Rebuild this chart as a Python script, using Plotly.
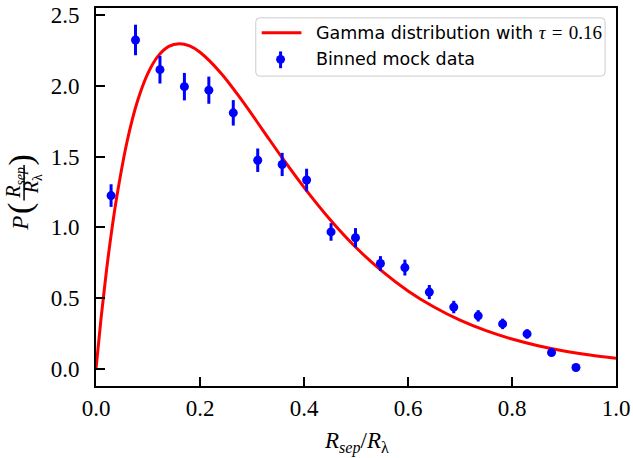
import plotly.graph_objects as go

# ---- data ----
bin_centers = [0.029, 0.076, 0.123, 0.170, 0.217, 0.264, 0.311, 0.358, 0.405, 0.452,
               0.499, 0.547, 0.594, 0.641, 0.688, 0.735, 0.782, 0.829, 0.876, 0.923]
bin_values = [1.225, 2.325, 2.115, 1.995, 1.970, 1.810, 1.475, 1.445, 1.335, 0.968,
              0.927, 0.745, 0.716, 0.543, 0.437, 0.375, 0.318, 0.247, 0.115, 0.010]
bin_errors = [0.080, 0.108, 0.098, 0.097, 0.096, 0.090, 0.083, 0.082, 0.080, 0.062,
              0.068, 0.052, 0.056, 0.050, 0.044, 0.040, 0.037, 0.033, 0.022, 0.007]

# gamma-distribution curve (tau = 0.16)
curve_x = [0.0, 0.01, 0.02, 0.03, 0.04, 0.06, 0.08, 0.10, 0.12, 0.14, 0.16, 0.18, 0.20,
           0.24, 0.28, 0.32, 0.36, 0.40, 0.45, 0.50, 0.55, 0.60, 0.65, 0.70, 0.75,
           0.80, 0.85, 0.90, 0.95, 1.00]
curve_y = [0.0, 0.367, 0.690, 0.972, 1.217, 1.611, 1.895, 2.091, 2.214, 2.280, 2.299,
           2.283, 2.238, 2.092, 1.901, 1.692, 1.482, 1.283, 1.056, 0.858, 0.691, 0.551,
           0.437, 0.344, 0.270, 0.211, 0.164, 0.127, 0.098, 0.075]

x_ticks = [0.0, 0.2, 0.4, 0.6, 0.8, 1.0]
x_ticklabels = ["0.0", "0.2", "0.4", "0.6", "0.8", "1.0"]
y_ticks = [0.0, 0.5, 1.0, 1.5, 2.0, 2.5]
y_ticklabels = ["0.0", "0.5", "1.0", "1.5", "2.0", "2.5"]

legend_curve = ("Gamma distribution with "
                "<span style=\"font-family:'Liberation Serif';font-size:19px\">"
                "<i>τ</i>\u2004=\u20040.16</span>")
legend_data = "Binned mock data"

# ---- layout geometry (pixels) ----
W, H = 633, 458
L, R, T, B = 96, 620, 3, 386
SERIF = "Liberation Serif"
SANS = "DejaVu Sans"


def px(xp):
    return (xp - L) / (R - L)


def py(yp):
    return (B - yp) / (B - T)


fig = go.Figure()
fig.add_trace(go.Scatter(
    x=curve_x, y=curve_y, mode="lines", line=dict(color="#ff0000", width=3, shape="spline"),
    showlegend=False, hoverinfo="skip"))
fig.add_trace(go.Scatter(
    x=bin_centers, y=bin_values, mode="markers",
    marker=dict(color="#0000ff", size=9),
    error_y=dict(type="data", array=bin_errors, visible=True, color="#0000ff",
                 thickness=3, width=0),
    showlegend=False))

axis_common = dict(showline=True, linecolor="black", linewidth=2, mirror=True,
                   ticks="inside", ticklen=9, tickwidth=2, tickcolor="black",
                   showgrid=False, zeroline=False, ticklabeloverflow="allow",
                   tickfont=dict(family=SERIF, size=23, color="black"))

fig.update_xaxes(range=[0, 1], tickvals=x_ticks, ticktext=x_ticklabels,
                 ticklabelstandoff=0, **axis_common)
fig.update_yaxes(range=[-0.121, 2.551], tickvals=y_ticks, ticktext=y_ticklabels,
                 ticklabelstandoff=10, **axis_common)

annotations = []
# x-axis title
annotations.append(dict(text="<i>R</i><sub><i>sep</i></sub>/<i>R</i><sub>λ</sub>",
                        x=px(358), y=py(443), xref="paper", yref="paper",
                        xanchor="center", yanchor="middle", showarrow=False,
                        font=dict(family=SERIF, size=23, color="black")))
# y-axis title built from pieces: P ( R_sep / R_lambda )
ypieces = [
    ("<i>P</i>", 20, 221, 23),
    ("(", 20, 206, 34),
    (")", 20, 157, 34),
    ("<i>R</i><sub><i>sep</i></sub>", 14.5, 180, 20),
    ("<i>R</i><sub>λ</sub>", 32, 181, 20),
]
for txt, xx, yy, fs in ypieces:
    annotations.append(dict(text=txt, x=px(xx), y=py(yy), xref="paper", yref="paper",
                            xanchor="center", yanchor="middle", showarrow=False,
                            textangle=-90,
                            font=dict(family=SERIF, size=fs, color="black")))
# legend texts
annotations.append(dict(text=legend_curve, x=px(316), y=py(28), xref="paper", yref="paper",
                        xanchor="left", yanchor="middle", showarrow=False,
                        font=dict(family=SANS, size=17.5, color="black")))
annotations.append(dict(text=legend_data, x=px(316), y=py(55), xref="paper", yref="paper",
                        xanchor="left", yanchor="middle", showarrow=False,
                        font=dict(family=SANS, size=17.5, color="black")))

shapes = []
# fraction bar of the y title
shapes.append(dict(type="line", xref="paper", yref="paper",
                   x0=px(23.5), x1=px(23.5), y0=py(162), y1=py(198),
                   line=dict(color="black", width=1.5)))
# legend frame (rounded)
lx0, lx1, ly0, ly1, rr = 257, 609, 13, 72, 4
path = (f"M {px(lx0 + rr)},{py(ly0)} L {px(lx1 - rr)},{py(ly0)} "
        f"Q {px(lx1)},{py(ly0)} {px(lx1)},{py(ly0 + rr)} "
        f"L {px(lx1)},{py(ly1 - rr)} Q {px(lx1)},{py(ly1)} {px(lx1 - rr)},{py(ly1)} "
        f"L {px(lx0 + rr)},{py(ly1)} Q {px(lx0)},{py(ly1)} {px(lx0)},{py(ly1 - rr)} "
        f"L {px(lx0)},{py(ly0 + rr)} Q {px(lx0)},{py(ly0)} {px(lx0 + rr)},{py(ly0)} Z")
shapes.append(dict(type="path", path=path, xref="paper", yref="paper",
                   fillcolor="rgba(255,255,255,0.8)", line=dict(color="#cccccc", width=1),
                   layer="above"))
# legend handles
shapes.append(dict(type="line", xref="paper", yref="paper",
                   x0=px(263), x1=px(303), y0=py(28), y1=py(28),
                   line=dict(color="#ff0000", width=3), layer="above"))
shapes.append(dict(type="line", xref="paper", yref="paper",
                   x0=px(282), x1=px(282), y0=py(47), y1=py(64),
                   line=dict(color="#0000ff", width=3), layer="above"))
shapes.append(dict(type="circle", xref="paper", yref="paper",
                   x0=px(277.5), x1=px(286.5), y0=py(50.5), y1=py(59.5),
                   fillcolor="#0000ff", line=dict(color="#0000ff", width=0), layer="above"))

fig.update_layout(width=W, height=H, margin=dict(l=L, r=W - R, t=T, b=H - B),
                  paper_bgcolor="white", plot_bgcolor="white",
                  annotations=annotations, shapes=shapes, showlegend=False)

fig.write_html("out.html", config={"displayModeBar": False, "staticPlot": True},
               post_script="document.body.style.margin='0';document.body.style.overflow='hidden';")
